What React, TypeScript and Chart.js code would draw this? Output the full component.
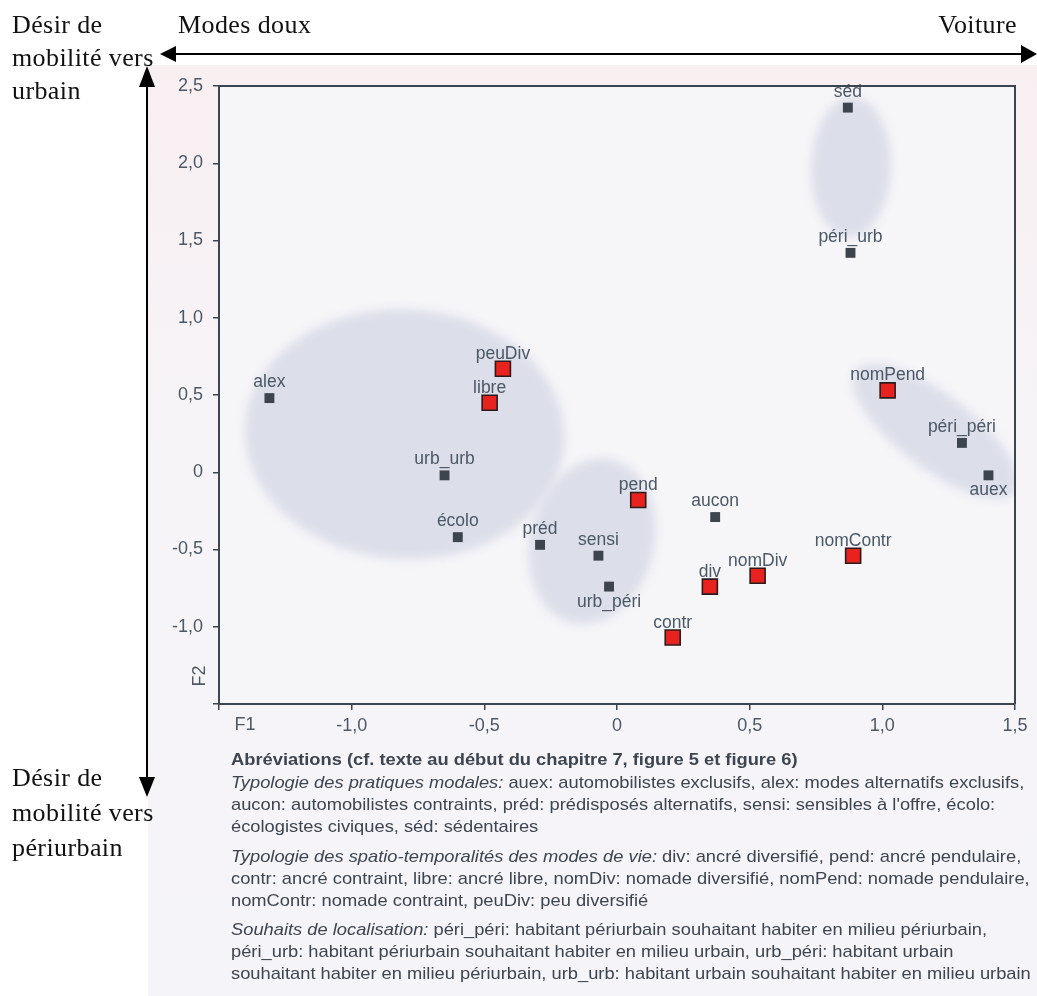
import React, { useEffect, useLayoutEffect, useRef } from "react";
import { Chart, registerables } from "chart.js";
Chart.register(...registerables);

// ---------------- data ----------------
// Typologie des pratiques modales + souhaits de localisation (dark squares)
const modalLabels = ["alex", "urb_urb", "écolo", "préd", "sensi", "urb_péri", "aucon", "séd", "péri_urb", "péri_péri", "auex"];
const modalX = [-1.31, -0.65, -0.6, -0.29, -0.07, -0.03, 0.37, 0.87, 0.88, 1.3, 1.4];
const modalY = [0.48, -0.02, -0.42, -0.47, -0.54, -0.74, -0.29, 2.36, 1.42, 0.19, -0.02];
const modalLabelBelow = [false, false, false, false, false, true, false, false, false, false, true];

// Typologie des spatio-temporalités des modes de vie (red squares)
const lifestyleLabels = ["peuDiv", "libre", "pend", "div", "nomDiv", "contr", "nomContr", "nomPend"];
const lifestyleX = [-0.43, -0.48, 0.08, 0.35, 0.53, 0.21, 0.89, 1.02];
const lifestyleY = [0.67, 0.45, -0.18, -0.74, -0.67, -1.07, -0.54, 0.53];

const xTickValues = [-1.5, -1, -0.5, 0, 0.5, 1, 1.5];
const xTickLabels = ["", "-1,0", "-0,5", "0", "0,5", "1,0", "1,5"];
const yTickValues = [-1.5, -1, -0.5, 0, 0.5, 1, 1.5, 2, 2.5];
const yTickLabels = ["", "-1,0", "-0,5", "0", "0,5", "1,0", "1,5", "2,0", "2,5"];

// shaded groupings (centre in data units, radii in px)
const blobCx = [-0.8, -0.094, 0.882, 1.199];
const blobCy = [0.246, -0.447, 1.974, 0.265];
const blobRx = [160, 62, 40, 100];
const blobRy = [125, 84, 70, 37];
const blobRot = [0.05, 0.25, 0.03, 0.65];

const captionLines: { italic?: string; text: string; bold?: boolean; top: number }[] = [
  { text: "Abréviations (cf. texte au début du chapitre 7, figure 5 et figure 6)", bold: true, top: 749 },
  { italic: "Typologie des pratiques modales: ", text: "auex: automobilistes exclusifs, alex: modes alternatifs exclusifs,", top: 772 },
  { text: "aucon: automobilistes contraints, préd: prédisposés alternatifs, sensi: sensibles à l'offre, écolo:", top: 794 },
  { text: "écologistes civiques, séd: sédentaires", top: 816 },
  { italic: "Typologie des spatio-temporalités des modes de vie: ", text: "div: ancré diversifié, pend: ancré pendulaire,", top: 846 },
  { text: "contr: ancré contraint, libre: ancré libre, nomDiv: nomade diversifié, nomPend: nomade pendulaire,", top: 868 },
  { text: "nomContr: nomade contraint, peuDiv: peu diversifié", top: 890 },
  { italic: "Souhaits de localisation: ", text: "péri_péri: habitant périurbain souhaitant habiter en milieu périurbain,", top: 919 },
  { text: "péri_urb: habitant périurbain souhaitant habiter en milieu urbain, urb_péri: habitant urbain", top: 941 },
  { text: "souhaitant habiter en milieu périurbain, urb_urb: habitant urbain souhaitant habiter en milieu urbain", top: 963 },
];

// ---------------- styles ----------------
const AXIS = "#3b4651";
const TICK_TEXT = "#4c5866";
const LABEL_TEXT = "#4b5866";
const SANS = '"Liberation Sans", Arial, Helvetica, sans-serif';
const SERIF = '"Liberation Serif", "Times New Roman", serif';

const decorPlugin = {
  id: "decor",
  beforeDraw(chart: any) {
    const { ctx, chartArea: a, scales } = chart;
    ctx.save();
    ctx.fillStyle = "#f6f6f9";
    ctx.fillRect(a.left, a.top, a.right - a.left, a.bottom - a.top);
    ctx.beginPath();
    ctx.rect(a.left, a.top, a.right - a.left, a.bottom - a.top);
    ctx.clip();
    ctx.filter = "blur(5px)";
    ctx.fillStyle = "#dcdee9";
    for (let i = 0; i < blobCx.length; i++) {
      const cx = scales.x.getPixelForValue(blobCx[i]);
      const cy = scales.y.getPixelForValue(blobCy[i]);
      ctx.beginPath();
      ctx.ellipse(cx, cy, blobRx[i], blobRy[i], blobRot[i], 0, Math.PI * 2);
      ctx.fill();
    }
    ctx.restore();
  },
  afterDatasetsDraw(chart: any) {
    const { ctx } = chart;
    ctx.save();
    ctx.font = `17.5px ${SANS}`;
    ctx.fillStyle = LABEL_TEXT;
    ctx.textAlign = "center";
    ctx.textBaseline = "alphabetic";
    const m0 = chart.getDatasetMeta(0);
    m0.data.forEach((el: any, i: number) => {
      const y = modalLabelBelow[i] ? el.y + 20 : el.y - 11;
      ctx.fillText(modalLabels[i], el.x, y);
    });
    const m1 = chart.getDatasetMeta(1);
    m1.data.forEach((el: any, i: number) => {
      ctx.fillText(lifestyleLabels[i], el.x, el.y - 10);
    });
    ctx.restore();
  },
  afterDraw(chart: any) {
    const { ctx, chartArea: a } = chart;
    ctx.save();
    ctx.strokeStyle = AXIS;
    ctx.lineWidth = 2;
    ctx.beginPath();
    ctx.moveTo(a.left, a.top);
    ctx.lineTo(a.right, a.top);
    ctx.lineTo(a.right, a.bottom);
    ctx.stroke();
    ctx.font = `18px ${SANS}`;
    ctx.fillStyle = TICK_TEXT;
    ctx.textAlign = "center";
    ctx.textBaseline = "middle";
    ctx.fillText("F1", a.left + 26, a.bottom + 21);
    ctx.translate(a.left - 19, a.bottom - 28);
    ctx.rotate(-Math.PI / 2);
    ctx.fillText("F2", 0, 0);
    ctx.restore();
  },
};

function ScatterChart() {
  const ref = useRef<HTMLCanvasElement | null>(null);
  useEffect(() => {
    if (!ref.current) return;
    const tickFont = { family: SANS, size: 18 };
    const chart = new Chart(ref.current, {
      type: "scatter",
      data: {
        datasets: [
          {
            label: "modal",
            data: modalX.map((x, i) => ({ x, y: modalY[i] })),
            pointStyle: "rect",
            pointRadius: 7,
            backgroundColor: "#3e444d",
            borderWidth: 0,
          },
          {
            label: "lifestyle",
            data: lifestyleX.map((x, i) => ({ x, y: lifestyleY[i] })),
            pointStyle: "rect",
            pointRadius: 10.6,
            backgroundColor: "#e8221f",
            borderColor: "#2b1c1c",
            borderWidth: 1.6,
          },
        ],
      },
      options: {
        responsive: false,
        animation: false,
        events: [],
        layout: { padding: { left: 0, right: 22, top: 21, bottom: 0 } },
        plugins: { legend: { display: false }, tooltip: { enabled: false } },
        scales: {
          x: {
            type: "linear",
            min: -1.5,
            max: 1.5,
            afterBuildTicks: (s: any) => {
              s.ticks = xTickValues.map((v) => ({ value: v }));
            },
            afterFit: (s: any) => {
              s.height = 41;
            },
            ticks: {
              callback: (_v: any, i: number) => xTickLabels[i] ?? "",
              font: tickFont,
              color: TICK_TEXT,
              padding: 5,
              maxRotation: 0,
              autoSkip: false,
            },
            grid: { drawOnChartArea: false, drawTicks: true, tickLength: 6, color: AXIS, lineWidth: 1.5 },
            border: { display: true, color: AXIS, width: 2 },
          },
          y: {
            type: "linear",
            min: -1.5,
            max: 2.5,
            afterBuildTicks: (s: any) => {
              s.ticks = yTickValues.map((v) => ({ value: v }));
            },
            afterFit: (s: any) => {
              s.width = 69;
            },
            ticks: {
              callback: (_v: any, i: number) => yTickLabels[i] ?? "",
              font: tickFont,
              color: TICK_TEXT,
              padding: 10,
              autoSkip: false,
            },
            grid: { drawOnChartArea: false, drawTicks: true, tickLength: 6, color: AXIS, lineWidth: 1.5 },
            border: { display: true, color: AXIS, width: 2 },
          },
        },
      } as any,
      plugins: [decorPlugin],
    });
    return () => chart.destroy();
  }, []);
  return <canvas ref={ref} width={887} height={680} style={{ position: "absolute", left: 150, top: 65 }} />;
}

function Caption() {
  const boxRef = useRef<HTMLDivElement | null>(null);
  const longRef = useRef<HTMLDivElement | null>(null);
  useLayoutEffect(() => {
    if (!boxRef.current || !longRef.current) return;
    const w = longRef.current.scrollWidth;
    if (w > 0) boxRef.current.style.transform = `scaleX(${800 / w})`;
  }, []);
  return (
    <div ref={boxRef} style={{ position: "absolute", left: 231, top: 0, transformOrigin: "0 0" }}>
      {captionLines.map((l, i) => (
        <div
          key={i}
          ref={i === captionLines.length - 1 ? longRef : undefined}
          style={{
            position: "absolute",
            left: 0,
            top: l.top,
            whiteSpace: "nowrap",
            font: `${l.bold ? "bold " : ""}17px ${SANS}`,
            lineHeight: "22px",
            color: "#3d4550",
            display: "inline-block",
          }}
        >
          {l.italic ? <span style={{ fontStyle: "italic" }}>{l.italic}</span> : null}
          {l.text}
        </div>
      ))}
    </div>
  );
}

export default function App() {
  const serif: React.CSSProperties = {
    position: "absolute",
    fontFamily: SERIF,
    fontSize: 26,
    color: "#111",
    whiteSpace: "nowrap",
    letterSpacing: "0.4px",
  };
  return (
    <div style={{ position: "absolute", left: 0, top: 0, width: 1037, height: 996, overflow: "hidden", background: "#ffffff" }}>
      <div
        style={{
          position: "absolute",
          left: 148,
          top: 65,
          width: 889,
          height: 931,
          background: "linear-gradient(180deg, #f8eff1 0%, #f6f4f7 40%, #f5f4f8 100%)",
        }}
      />
      <ScatterChart />
      <svg width={1037} height={996} style={{ position: "absolute", left: 0, top: 0, pointerEvents: "none" }}>
        <line x1={174} y1={54} x2={1023} y2={54} stroke="#000" strokeWidth={2} />
        <polygon points="160,54 176,46 176,62" fill="#000" />
        <polygon points="1037,54 1021,45 1021,63" fill="#000" />
        <line x1={147} y1={85} x2={147} y2={779} stroke="#000" strokeWidth={2} />
        <polygon points="147,66 139,87 155,87" fill="#000" />
        <polygon points="147,797 139,777 155,777" fill="#000" />
      </svg>
      <div style={{ ...serif, left: 12, top: 8, lineHeight: "33px" }}>
        Désir de
        <br />
        mobilité vers
        <br />
        urbain
      </div>
      <div style={{ ...serif, left: 178, top: 8, lineHeight: "33px" }}>Modes doux</div>
      <div style={{ ...serif, right: 20, top: 8, lineHeight: "33px" }}>Voiture</div>
      <div style={{ ...serif, left: 12, top: 760, lineHeight: "35px" }}>
        Désir de
        <br />
        mobilité vers
        <br />
        périurbain
      </div>
      <Caption />
    </div>
  );
}
